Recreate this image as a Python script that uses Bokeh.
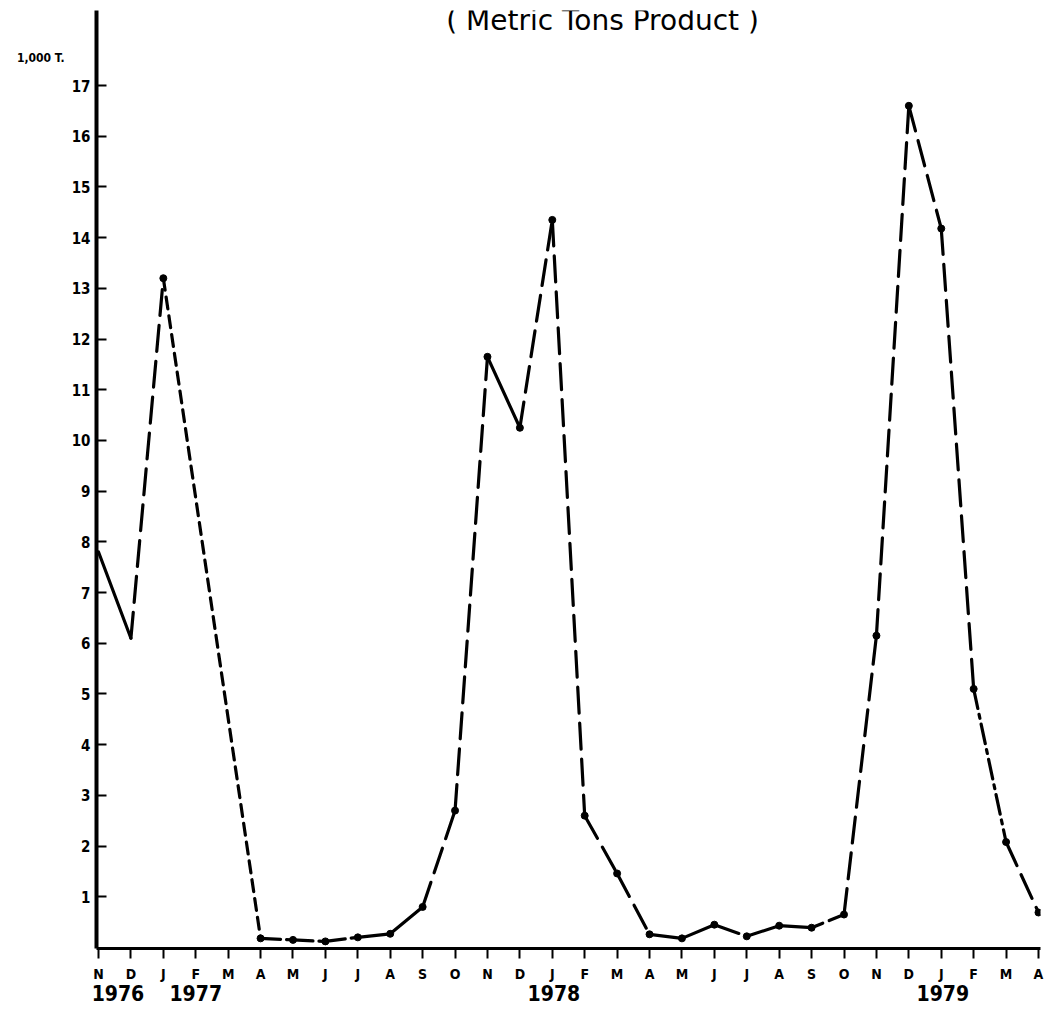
from bokeh.plotting import figure
from bokeh.models import Range1d, FixedTicker, LinearAxis, Label
from bokeh.embed import file_html
from bokeh.resources import INLINE

# ---- data ----
months = ["N", "D", "J", "F", "M", "A", "M", "J", "J", "A", "S", "O",
          "N", "D", "J", "F", "M", "A", "M", "J", "J", "A", "S", "O",
          "N", "D", "J", "F", "M", "A"]
values = [7.8, 6.1, 13.2, None, None, 0.18, 0.15, 0.12, 0.2, 0.27, 0.8, 2.7,
          11.65, 10.25, 14.35, 2.6, 1.46, 0.26, 0.18, 0.45, 0.22, 0.43, 0.39, 0.65,
          6.15, 16.6, 14.18, 5.1, 2.08, 0.69]
years = ["1976", "1977", "1978", "1979"]
year_pos = [0.6, 3.0, 14.05, 26.05]
y_ticks = list(range(1, 18))
unit_label = "1,000 T."
unit_pos = 17.55

# line style of each joining segment, in order
seg_styles = ["solid", "long", "short", "dashdot", "dashdot", "dashdot", "solid",
              "solid", "long", "long", "solid", "long", "long", "long", "long",
              "solid", "solid", "long", "solid", "solid", "short", "long", "long",
              "long", "long", "dashdot", "long"]
dash_map = {"solid": "solid", "long": "26 10", "short": "12 7", "dashdot": "20 6 4 6"}

FONT = "DejaVu Sans Condensed"

p = figure(width=1044, height=1008, output_backend="svg", toolbar_location=None,
           x_range=Range1d(-0.062, 29.062), y_range=Range1d(-0.02, 18.48),
           min_border_left=96, min_border_right=4, min_border_top=10, min_border_bottom=60,
           x_axis_type=None, y_axis_type=None)
p.outline_line_color = None
p.xgrid.visible = False
p.ygrid.visible = False
p.background_fill_color = "white"
p.border_fill_color = "white"

# y axis
yax = LinearAxis(ticker=FixedTicker(ticks=y_ticks))
yax.axis_line_width = 4
yax.axis_line_color = "black"
yax.major_tick_in = 10
yax.major_tick_out = 0
yax.major_tick_line_width = 2
yax.minor_tick_line_color = None
yax.major_label_standoff = 6
yax.major_label_text_font = FONT
yax.major_label_text_font_style = "bold"
yax.major_label_text_font_size = "15px"
yax.major_label_text_color = "black"
p.add_layout(yax, "left")

# unit label as outer left axis
uax = LinearAxis(ticker=FixedTicker(ticks=[unit_pos]))
uax.major_label_overrides = {unit_pos: unit_label}
uax.axis_line_color = None
uax.major_tick_line_color = None
uax.minor_tick_line_color = None
uax.major_tick_in = 0
uax.major_tick_out = 0
uax.major_label_standoff = 4
uax.major_label_text_font = FONT
uax.major_label_text_font_style = "bold"
uax.major_label_text_font_size = "12px"
uax.major_label_text_color = "black"
p.add_layout(uax, "left")

# x axis (months)
xax = LinearAxis(ticker=FixedTicker(ticks=list(range(len(months)))))
xax.major_label_overrides = {i: m for i, m in enumerate(months)}
xax.axis_line_width = 3
xax.axis_line_color = "black"
xax.major_tick_in = 0
xax.major_tick_out = 10
xax.major_tick_line_width = 2
xax.minor_tick_line_color = None
xax.major_label_standoff = 7
xax.major_label_text_font = FONT
xax.major_label_text_font_style = "bold"
xax.major_label_text_font_size = "14px"
xax.major_label_text_color = "black"
p.add_layout(xax, "below")

# year axis
yrax = LinearAxis(ticker=FixedTicker(ticks=year_pos))
yrax.major_label_overrides = {pos: yr for pos, yr in zip(year_pos, years)}
yrax.axis_line_color = None
yrax.major_tick_line_color = None
yrax.major_tick_in = 0
yrax.major_tick_out = 0
yrax.minor_tick_line_color = None
yrax.major_label_standoff = 0
yrax.major_label_text_font = FONT
yrax.major_label_text_font_style = "bold"
yrax.major_label_text_font_size = "21px"
yrax.major_label_text_color = "black"
p.add_layout(yrax, "below")

# line segments
pts = [(i, v) for i, v in enumerate(values) if v is not None]
for k in range(len(pts) - 1):
    (x0, y0), (x1, y1) = pts[k], pts[k + 1]
    p.line([x0, x1], [y0, y1], line_color="black", line_width=3.2,
           line_dash=dash_map[seg_styles[k]], line_cap="round")

# markers
mx = [i for i, v in pts[2:]]
my = [v for i, v in pts[2:]]
p.scatter(mx, my, size=7, color="black")

# title
p.add_layout(Label(x=15.55, y=18.28, text="( Metric Tons Product )",
                   text_align="center", text_baseline="alphabetic",
                   text_font="DejaVu Sans", text_font_size="28px", text_color="black"))

open("out.html", "w").write(file_html(p, INLINE))
